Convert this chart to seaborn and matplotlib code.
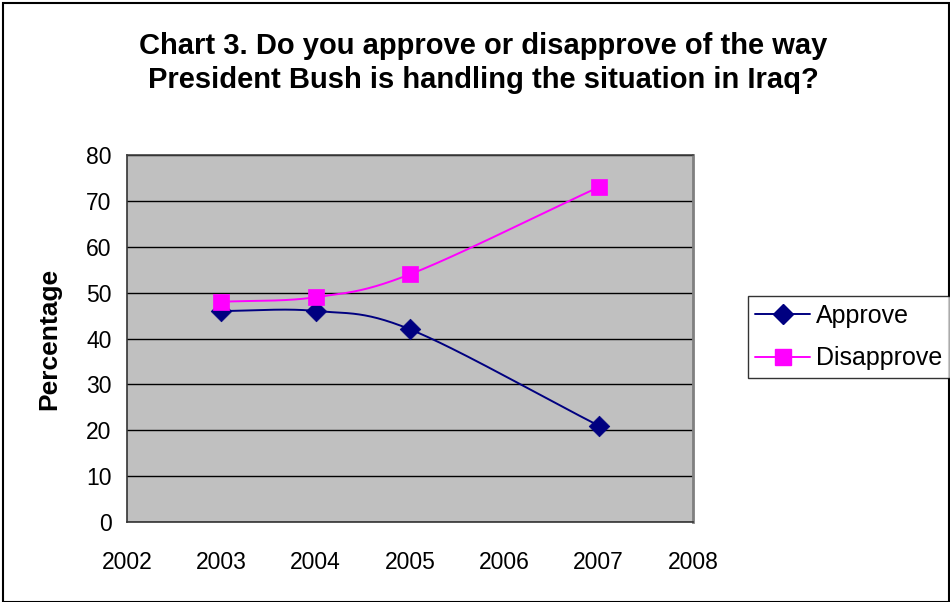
import numpy as np
import pandas as pd
import matplotlib
matplotlib.use("Agg")
import matplotlib.pyplot as plt
from matplotlib.lines import Line2D
from matplotlib.patches import Rectangle
import seaborn as sns

# Survey results by year
years = [2003, 2004, 2005, 2007]
approve = [46, 46, 42, 21]
disapprove = [48, 49, 54, 73]
series_names = ["Approve", "Disapprove"]
series_colors = ["#000080", "#FF00FF"]
series_markers = ["D", "s"]
y_ticks = [0, 10, 20, 30, 40, 50, 60, 70, 80]
x_ticks = [2002, 2003, 2004, 2005, 2006, 2007, 2008]

sns.set_theme(style="white")
plt.rcParams["font.family"] = ["Liberation Sans", "DejaVu Sans"]
plt.rcParams["text.color"] = "black"


def smooth_curve(xs, ys, n=60):
    """Catmull-Rom spline through the points (like a smoothed line chart)."""
    xs = np.asarray(xs, float)
    ys = np.asarray(ys, float)
    px = np.concatenate([[2 * xs[0] - xs[1]], xs, [2 * xs[-1] - xs[-2]]])
    py = np.concatenate([[2 * ys[0] - ys[1]], ys, [2 * ys[-1] - ys[-2]]])
    out_x, out_y = [], []
    t = np.linspace(0, 1, n)
    for i in range(1, len(px) - 2):
        for p, out in ((px, out_x), (py, out_y)):
            p0, p1, p2, p3 = p[i - 1], p[i], p[i + 1], p[i + 2]
            seg = 0.5 * ((2 * p1) + (-p0 + p2) * t
                         + (2 * p0 - 5 * p1 + 4 * p2 - p3) * t ** 2
                         + (-p0 + 3 * p1 - 3 * p2 + p3) * t ** 3)
            out.extend(seg if i == 1 else seg[1:])
    return np.array(out_x), np.array(out_y)


fig = plt.figure(figsize=(9.5, 6.02), dpi=100)
fig.patch.set_facecolor("white")
ax = fig.add_axes([0.1337, 0.1329, 0.5958, 0.6096])
ax.set_facecolor("#C0C0C0")

for name, vals, color, marker in zip(series_names, [approve, disapprove],
                                     series_colors, series_markers):
    cx, cy = smooth_curve(years, vals)
    curve = pd.DataFrame({"Year": cx, "Value": cy})
    sns.lineplot(data=curve, x="Year", y="Value", ax=ax, color=color,
                 linewidth=1.4, sort=False, estimator=None)
    pts = pd.DataFrame({"Year": years, "Value": vals})
    sns.scatterplot(data=pts, x="Year", y="Value", ax=ax, color=color,
                    marker=marker, s=110 if marker == "D" else 120,
                    edgecolor=color, linewidth=0.5, zorder=5)

ax.set_xlim(2002, 2008)
ax.set_ylim(0, 80)
ax.set_xticks(x_ticks)
ax.set_yticks(y_ticks)
ax.set_xticklabels([str(v) for v in x_ticks])
ax.yaxis.grid(True, color="black", linewidth=1.0)
ax.xaxis.grid(False)
ax.set_axisbelow(True)

for side in ["left", "bottom"]:
    ax.spines[side].set_color("#333333")
    ax.spines[side].set_linewidth(1.2)
ax.spines["right"].set_color("#808080")
ax.spines["right"].set_linewidth(2)
ax.spines["top"].set_color("#404040")
ax.spines["top"].set_linewidth(1.2)

ax.tick_params(axis="both", which="major", direction="out", length=7,
               width=1.2, color="#333333", labelsize=16.5, labelcolor="black")
ax.tick_params(axis="x", pad=14)
ax.tick_params(axis="y", pad=4)

ax.set_xlabel("")
ax.set_ylabel("Percentage", fontsize=19, fontweight="bold", labelpad=18,
              color="black")

fig.text(0.509, 0.895, "Chart 3. Do you approve or disapprove of the way\n"
         "President Bush is handling the situation in Iraq?",
         ha="center", va="center", fontsize=21, fontweight="bold",
         linespacing=1.28, color="black")

handles = [Line2D([0], [0], color=c, marker=m, markersize=10 if m == "D" else 11,
                  linewidth=1.4, markeredgecolor=c)
           for c, m in zip(series_colors, series_markers)]
leg = fig.legend(handles, series_names, loc="center left",
                 bbox_to_anchor=(0.787, 0.44), fontsize=18, frameon=True,
                 fancybox=False, edgecolor="black", handlelength=2.2,
                 borderpad=0.3, labelspacing=0.75, handletextpad=0.25,
                 borderaxespad=0)
leg.get_frame().set_linewidth(1.0)
for txt in leg.get_texts():
    txt.set_color("black")

fig.add_artist(Rectangle((0.003, 0.0), 0.996, 0.995, transform=fig.transFigure,
                         fill=False, edgecolor="black", linewidth=1.5))

fig.savefig("out.png", dpi=100)
